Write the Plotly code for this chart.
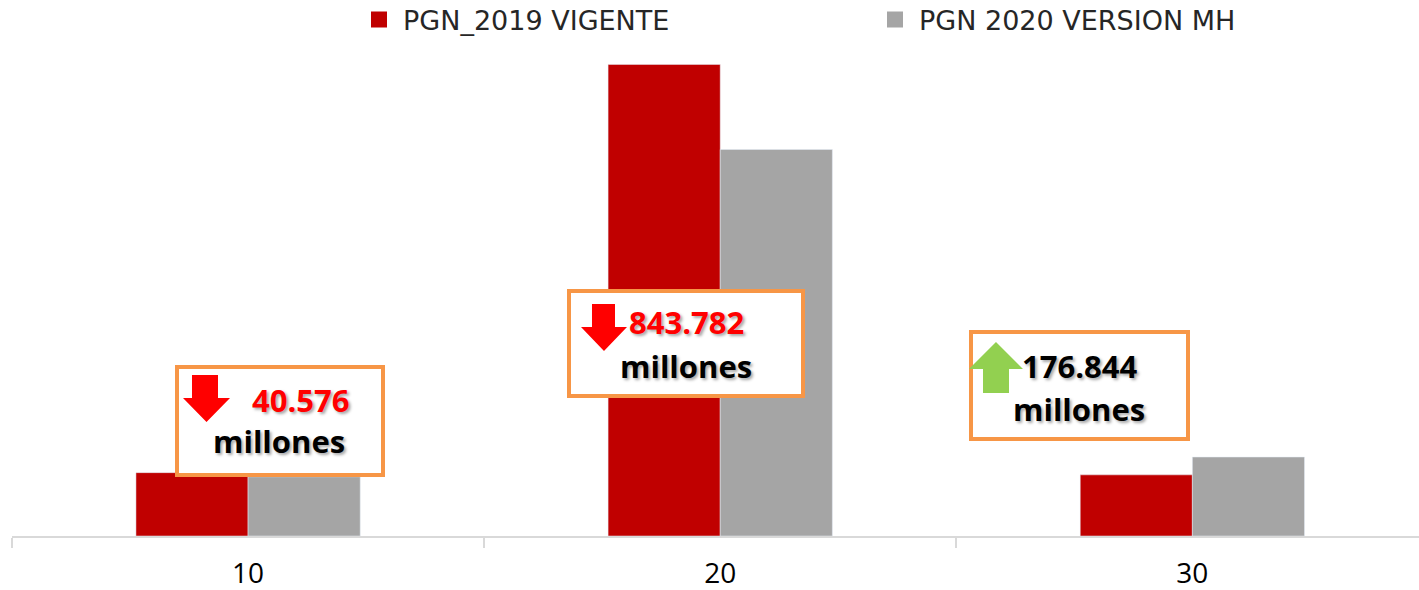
import plotly.graph_objects as go

categories = ["10", "20", "30"]
pgn_2019 = [629, 4681, 607]
pgn_2020 = [588, 3837, 784]
series_names = ["PGN_2019 VIGENTE", "PGN 2020 VERSION MH"]
series_colors = ["#C00000", "#A5A5A5"]
box_values = ["40.576", "843.782", "176.844"]
box_unit = "millones"

W, H = 1419, 590
L, R, T, B = 12, 0, 48, 54
PW, PH = W - L - R, H - T - B

def px(x):
    return (x - L) / PW

def py(y):
    return (H - B - y) / PH

fig = go.Figure()
fig.add_trace(go.Bar(x=categories, y=pgn_2019, name=series_names[0], marker_color=series_colors[0],
                     showlegend=False))
fig.add_trace(go.Bar(x=categories, y=pgn_2020, name=series_names[1], marker_color=series_colors[1],
                     showlegend=False))
# legend entries with larger square swatches
for name, col in zip(series_names, series_colors):
    fig.add_trace(go.Scatter(x=[None], y=[None], mode="markers", name=name,
                             marker=dict(symbol="square", size=17, color=col)))

shapes = []
annotations = []
boxes = [(175, 365, 385, 477), (567, 289, 805, 398), (969, 330, 1190, 441)]
for (x0, y0, x1, y1) in boxes:
    shapes.append(dict(type="rect", xref="paper", yref="paper",
                       x0=px(x0 + 2), x1=px(x1 - 2), y0=py(y1 - 2), y1=py(y0 + 2),
                       line=dict(color="#F79646", width=4), fillcolor="white", layer="above"))

def down_arrow(hx0, hx1, sx0, sx1, top, neck, tip):
    pts = [(sx0, top), (sx1, top), (sx1, neck), (hx1, neck), ((hx0 + hx1) / 2, tip), (hx0, neck), (sx0, neck)]
    return "M " + " L ".join(f"{px(a):.5f},{py(b):.5f}" for a, b in pts) + " Z"

shapes.append(dict(type="path", xref="paper", yref="paper", layer="above",
                   path=down_arrow(183, 230, 192, 218, 375, 398, 422), fillcolor="#FF0000", line=dict(width=0)))
shapes.append(dict(type="path", xref="paper", yref="paper", layer="above",
                   path=down_arrow(581, 627, 592, 615, 304, 327, 351), fillcolor="#FF0000", line=dict(width=0)))
up_pts = [(983, 393), (1009, 393), (1009, 369), (1023, 369), (996, 342), (969, 369), (983, 369)]
shapes.append(dict(type="path", xref="paper", yref="paper", layer="above",
                   path="M " + " L ".join(f"{px(a):.5f},{py(b):.5f}" for a, b in up_pts) + " Z",
                   fillcolor="#92D050", line=dict(width=0)))

shadow = "2px 2px 3px rgba(0,0,0,0.35)"
num_pos = [(300, 400, "#FF0000"), (686, 322, "#FF0000"), (1079, 366, "#000000")]
unit_pos = [(279, 441), (686, 366), (1079, 409)]
for v, (x, y, c) in zip(box_values, num_pos):
    annotations.append(dict(text=f"<b>{v}</b>", xref="paper", yref="paper", x=px(x), y=py(y),
                            xanchor="center", yanchor="middle", showarrow=False,
                            font=dict(family="Open Sans", size=31, color=c, shadow=shadow)))
for (x, y) in unit_pos:
    annotations.append(dict(text=f"<b>{box_unit}</b>", xref="paper", yref="paper", x=px(x), y=py(y),
                            xanchor="center", yanchor="middle", showarrow=False,
                            font=dict(family="Open Sans", size=31, color="#000000", shadow=shadow)))

fig.update_layout(
    width=W, height=H,
    margin=dict(l=L, r=R, t=T, b=B, pad=0, autoexpand=False),
    paper_bgcolor="white", plot_bgcolor="white",
    barmode="group", bargap=0.525, bargroupgap=0,
    showlegend=True,
    legend=dict(orientation="h", xref="container", yref="container", x=355 / W, y=1 - 20 / H,
                xanchor="left", yanchor="middle", entrywidth=463, entrywidthmode="pixels",
                itemwidth=38,
                font=dict(family="DejaVu Sans", size=27, color="#262626"), traceorder="normal"),
    xaxis=dict(type="category", range=[-0.5, 2.48], showline=True, linecolor="#D9D9D9", linewidth=2,
               ticks="outside", tickson="boundaries", ticklen=10, tickcolor="#D9D9D9", tickwidth=2,
               ticklabelstandoff=11,
               showgrid=False, tickfont=dict(family="Open Sans", size=28, color="#000000")),
    yaxis=dict(range=[0, PH * 843.782 / 85], visible=False, showgrid=False, zeroline=False),
    shapes=shapes, annotations=annotations,
)

fig.write_html("out.html")
